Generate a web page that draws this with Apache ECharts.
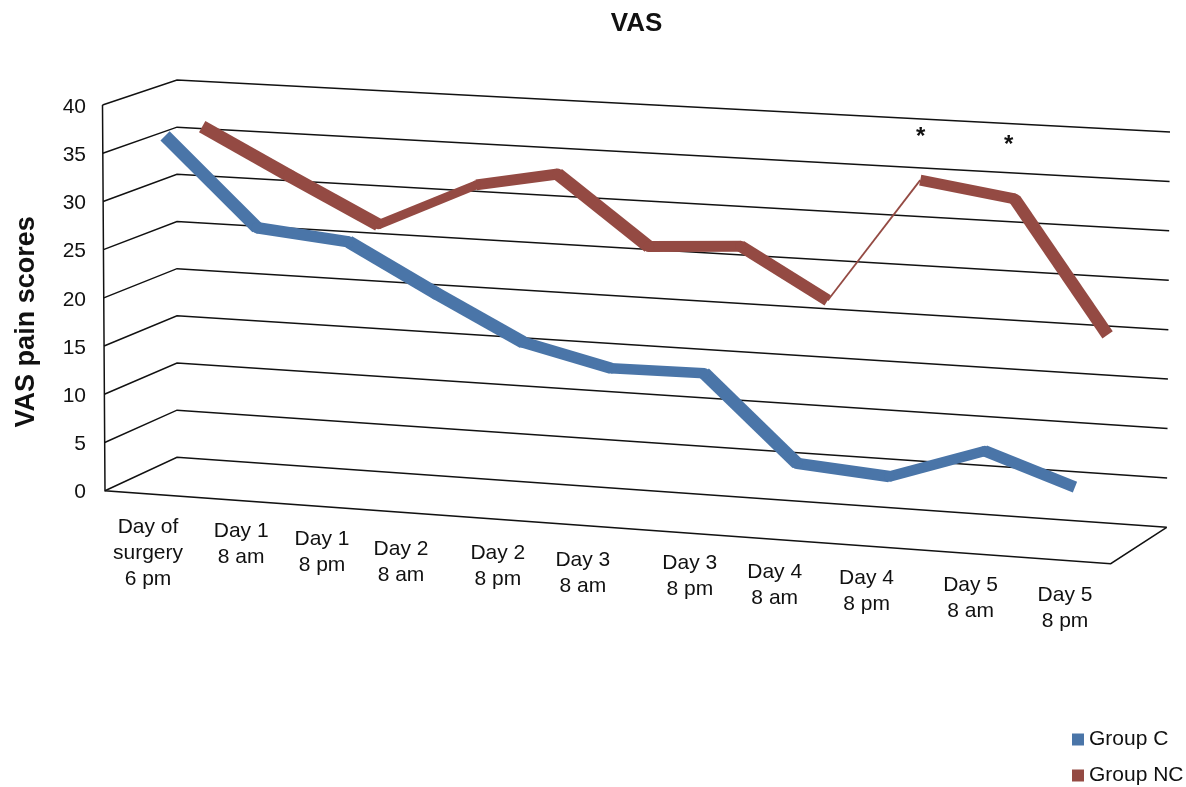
<!DOCTYPE html>
<html>
<head>
<meta charset="utf-8">
<style>html,body{margin:0;padding:0;background:#fff}#c{width:1186px;height:787px}</style>
<script src="https://cdn.jsdelivr.net/npm/echarts@6/dist/echarts.min.js"></script>
</head>
<body>
<div id="c"></div>
<script>
const categories = ['Day of\nsurgery\n6 pm','Day 1\n8 am','Day 1\n8 pm','Day 2\n8 am','Day 2\n8 pm','Day 3\n8 am','Day 3\n8 pm','Day 4\n8 am','Day 4\n8 pm','Day 5\n8 am','Day 5\n8 pm'];
const groupC  = [36.4,27.4,26.5,21.8,17.35,15.3,15.4,6.9,6.2,9.4,6.4];
const groupNC = [36.0,31.35,26.8,31.5,33.15,26.2,26.8,21.8,34.6,33.2,20.0];
const yTicks  = [0,5,10,15,20,25,30,35,40];
const starMarks = [[8,39.4],[9,39.0]];

// placement and stroke styling, kept apart from the data
const labelNudgeX = [-2.7,-1,-11.6,-24,-18.6,-25,-9.5,-16,-15.6,-3,0];
const labelNudgeY = [32,29.4,31,34,31.4,32,28,31,30,30.4,33.6];
const starNudgeX = [-7.5,-10];
const spacingC  = [-1.8,-1.3,-0.7,-5,-8.8,-12.2,-10,-8.7,-7.7,-3,-4];
const spacingNC = [-1.5,-4.5,-6.5,1,-8,-7.5,-6,-9.4,-7.7,-3.7,-0.8];
const widthsC  = [13,11.5,13,13,11.5,10.5,13,11.5,10.5,11.5];
const widthsNC = [13,13,9,11,13,11,12,1.8,11,12.5];

// oblique frame: screen corners of the 3D box
const GX = 105, GY = 105, GW = 1005.7, GH = 385.7;
const box = {
  fl0:[105,490.7], fl1:[102.5,105], fr0:[1110.7,563.7], fr1:[1108,160],
  bl0:[177,457.3], bl1:[177,80],   br0:[1166.7,527.3], br1:[1170,132]
};
const DEPTH_C = 0.25, DEPTH_NC = 0.75;
const FONT = '"Liberation Sans",Arial,sans-serif';
const lerp = (a,b,k) => [a[0]+(b[0]-a[0])*k, a[1]+(b[1]-a[1])*k];
// Map a point of the flat cartesian grid onto the oblique box at a given depth
function project(p, depth){
  const t = (p[0]-GX)/GW, u = (GY+GH-p[1])/GH;
  const floor = lerp(lerp(box.fl0,box.fr0,t), lerp(box.bl0,box.br0,t), depth);
  const top   = lerp(lerp(box.fl1,box.fr1,t), lerp(box.bl1,box.br1,t), depth);
  return lerp(floor, top, u);
}
const BLACK = '#111';
const lineRender = (values, depth, color, spacing, widths) => (params, api) => {
  if (params.dataIndex !== 0) return null;
  const pts = values.map((v,i) => {
    const p = project(api.coord([i,v]), depth);
    return [p[0]+spacing[i], p[1]];
  });
  const children = [];
  for (let i = 0; i < pts.length-1; i++) {
    children.push({type:'polyline', shape:{points:[pts[i],pts[i+1]]},
      style:{stroke:color, lineWidth:widths[i], fill:'none', lineCap:'butt'}});
    if (i > 0) {
      const w = Math.min(widths[i-1], widths[i]);
      if (w > 3) children.push({type:'circle', shape:{cx:pts[i][0], cy:pts[i][1], r:w/2}, style:{fill:color}});
    }
  }
  return {type:'group', children};
};
const frameRender = (params, api) => {
  const v = api.value(1);
  const a = api.coord([0,v]);
  const left = [GX, a[1]], right = [GX+GW, a[1]];
  const points = [project(left,0), project(left,1), project(right,1)];
  const st = {stroke:BLACK, lineWidth:1.5, fill:'none'};
  const children = [{type:'polyline', shape:{points}, style:st}];
  if (v === 0) {
    const y0 = a[1], y40 = api.coord([0,40])[1];
    children.push({type:'polyline', shape:{points:[project([GX+GW,y0],1),project([GX+GW,y0],0),project([GX,y0],0),project([GX,y40],0)]}, style:st});
  }
  return {type:'group', children};
};
const labelRender = (params, api) => {
  const i = params.dataIndex;
  const p = project(api.coord([i,0]), 0);
  return {type:'text', style:{text:categories[i], x:p[0]+labelNudgeX[i], y:p[1]+labelNudgeY[i]-12, textAlign:'center', textVerticalAlign:'top',
    fontFamily:FONT, fontSize:21, lineHeight:26, fill:BLACK}};
};
const starRender = (params, api) => {
  const i = params.dataIndex;
  const p = project(api.coord([api.value(0),api.value(1)]), DEPTH_NC);
  return {type:'text', style:{text:'*', x:p[0]+starNudgeX[i], y:p[1]+4, textAlign:'center', textVerticalAlign:'middle',
    fontFamily:FONT, fontSize:24, fontWeight:'bold', fill:BLACK}};
};
const chart = echarts.init(document.getElementById('c'));
chart.setOption({
  animation:false,
  backgroundColor:'#fff',
  title:{text:'VAS', left:631.5, textAlign:'center', top:6, textStyle:{fontFamily:FONT, fontSize:26, fontWeight:'bold', color:BLACK}},
  legend:{left:1072, top:729, orient:'vertical', icon:'rect', itemWidth:12, itemHeight:12, itemGap:15, padding:0,
    data:['Group C','Group NC'], selectedMode:false,
    textStyle:{fontFamily:FONT, fontSize:21, color:BLACK}},
  grid:{left:GX, top:GY, width:GW, height:GH},
  xAxis:{type:'category', data:categories, show:false},
  yAxis:{type:'value', min:0, max:40, interval:5, name:'VAS pain scores', nameLocation:'middle', nameGap:65, nameRotate:90,
    nameTextStyle:{fontFamily:FONT, fontSize:27, fontWeight:'bold', color:BLACK, padding:[0,48,0,0]},
    axisLine:{show:false}, axisTick:{show:false}, splitLine:{show:false},
    axisLabel:{margin:19, formatter:'{a|{value}}',
      rich:{a:{fontFamily:FONT, fontSize:21, color:BLACK, padding:[4,0,0,0]}}}},
  series:[
    {name:'frame', type:'custom', silent:true, z:1, data:yTicks.map(v=>[0,v]), encode:{x:0,y:1}, renderItem:frameRender, clip:false},
    {name:'Group C', type:'custom', z:2, data:groupC.map((v,i)=>[i,v]), encode:{x:0,y:1}, itemStyle:{color:'#4A75A8'}, renderItem:lineRender(groupC,DEPTH_C,'#4A75A8',spacingC,widthsC), clip:false},
    {name:'Group NC', type:'custom', z:3, data:groupNC.map((v,i)=>[i,v]), encode:{x:0,y:1}, itemStyle:{color:'#944A43'}, renderItem:lineRender(groupNC,DEPTH_NC,'#944A43',spacingNC,widthsNC), clip:false},
    {name:'labels', type:'custom', silent:true, z:4, data:categories.map((c,i)=>[i,0]), encode:{x:0,y:1}, renderItem:labelRender, clip:false},
    {name:'stars', type:'custom', silent:true, z:4, data:starMarks, encode:{x:0,y:1}, renderItem:starRender, clip:false}
  ]
});
</script>
</body>
</html>
